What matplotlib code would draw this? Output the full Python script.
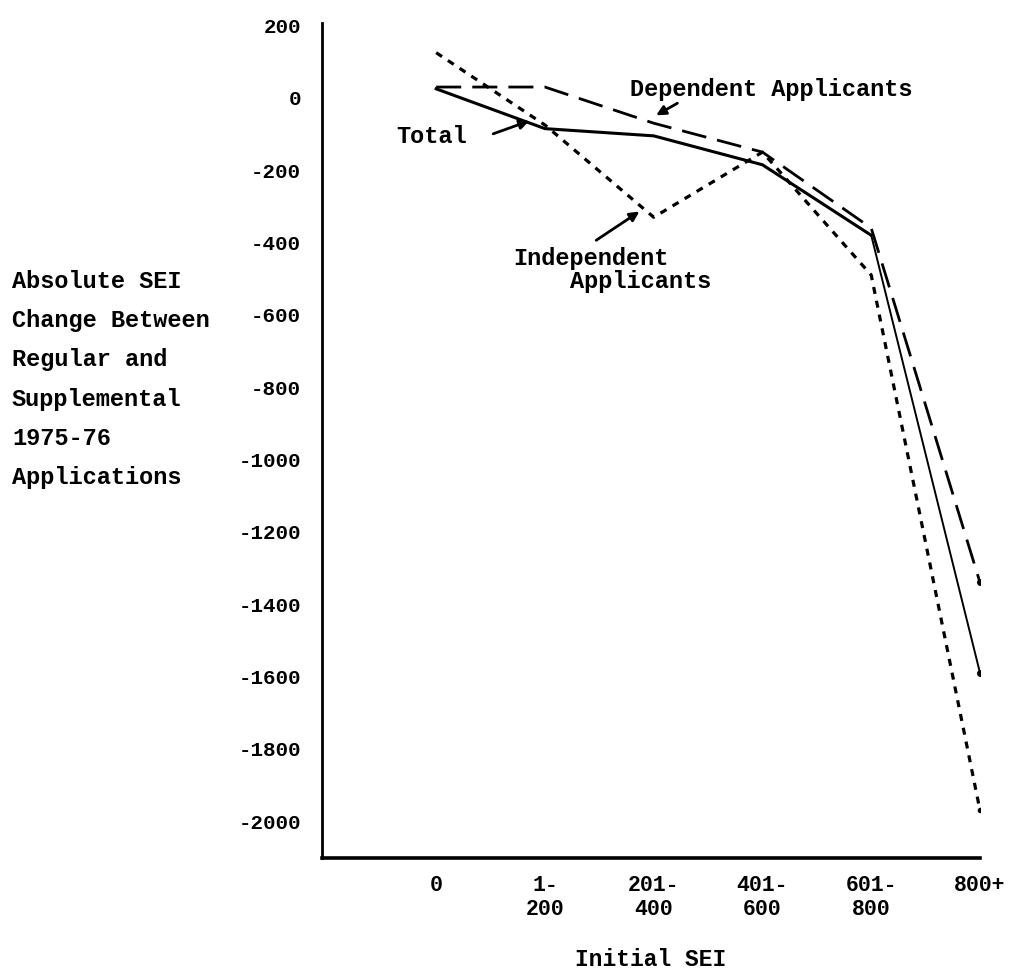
import matplotlib
matplotlib.use('Agg')
import matplotlib.pyplot as plt

# data
categories = ['0', '1-\n200', '201-\n400', '401-\n600', '601-\n800', '800+']
total = [25, -85, -105, -185, -380, -1590]
dependent = [30, 30, -70, -150, -360, -1340]
independent = [125, -75, -330, -150, -490, -1970]
yticks = [200, 0, -200, -400, -600, -800, -1000, -1200, -1400, -1600, -1800, -2000]
ylabel_lines = ['Absolute SEI', 'Change Between', 'Regular and',
                'Supplemental', '1975-76', 'Applications']

plt.rcParams['font.family'] = ['Liberation Mono', 'DejaVu Sans Mono']
plt.rcParams['font.weight'] = 'bold'
plt.rcParams['axes.labelweight'] = 'bold'
fs_tick = 15
fs_txt = 17

fig = plt.figure(figsize=(10.17, 9.72), dpi=100)
ax = fig.add_axes([0.3166, 0.1173, 0.647, 0.859])

x = list(range(len(categories)))

# Total - solid, thinner on the last drop
ax.plot(x[:5], total[:5], color='black', lw=2.2, solid_joinstyle='miter')
ax.plot(x[4:], total[4:], color='black', lw=1.4)
ax.plot(x[-1:], total[-1:], 'o', color='black', ms=4)

# Dependent - long dashes
ax.plot(x, dependent, color='black', lw=2.0, dashes=(9, 4))
ax.plot(x[-1:], dependent[-1:], 'o', color='black', ms=4)

# Independent - short dashes
ax.plot(x, independent, color='black', lw=2.3, dashes=(2.2, 2.2))
ax.plot(x[-1:], independent[-1:], 'o', color='black', ms=3)

ax.set_xlim(-1.05, 5.0)
ax.set_ylim(-2102, 207)

ax.set_xticks(x)
ax.set_xticklabels(categories, fontsize=15.5, linespacing=1.2)
ax.set_yticks(yticks)
ax.set_yticklabels([str(v) if v >= 0 else '-' + str(-v) for v in yticks], fontsize=fs_tick)
ax.tick_params(axis='both', length=0)
ax.tick_params(axis='y', pad=15)
ax.tick_params(axis='x', pad=12)

for s in ['top', 'right']:
    ax.spines[s].set_visible(False)
ax.spines['left'].set_linewidth(2.0)
ax.spines['bottom'].set_linewidth(2.6)

# annotations
arw = dict(arrowstyle='-|>', color='black', lw=2.0, mutation_scale=14)
ax.text(1.78, 22, 'Dependent Applicants', fontsize=fs_txt, va='center', ha='left')
ax.annotate('', xy=(2.0, -52), xytext=(2.24, -11), arrowprops=arw)

ax.text(-0.37, -108, 'Total', fontsize=fs_txt, va='center', ha='left')
ax.annotate('', xy=(0.88, -61), xytext=(0.50, -102), arrowprops=arw)

ax.text(1.42, -443, 'Independent', fontsize=fs_txt, va='center', ha='center')
ax.text(1.88, -509, 'Applicants', fontsize=fs_txt, va='center', ha='center')
ax.annotate('', xy=(1.89, -310), xytext=(1.45, -398), arrowprops=arw)

ax.set_xlabel('Initial SEI', fontsize=16.5, fontweight='bold', labelpad=20)

fig.text(12 / 1017, 1 - 270 / 972, '\n'.join(ylabel_lines), fontsize=fs_txt,
         va='top', ha='left', linespacing=1.9)

fig.savefig('out.png', dpi=100, facecolor='white')
